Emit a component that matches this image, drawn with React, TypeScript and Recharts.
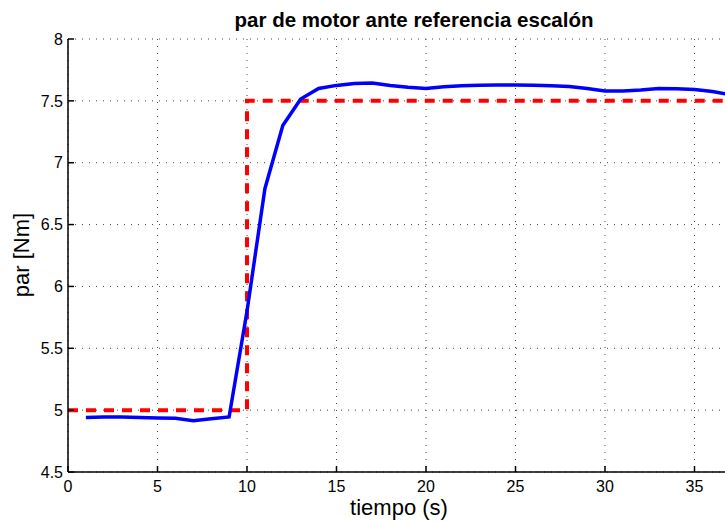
import { LineChart, Line, XAxis, YAxis, CartesianGrid } from 'recharts'

// time (s) of the measured torque samples
const sampleTimes = [
  1, 2, 3, 4, 5, 6, 7, 8, 9, 10, 11, 12, 13, 14, 15, 16, 17, 18, 19,
  20, 21, 22, 23, 24, 25, 26, 27, 28, 29, 30, 31, 32, 33, 34, 35, 36, 37,
]
// measured motor torque [Nm]
const torque = [
  4.94, 4.945, 4.945, 4.94, 4.937, 4.935, 4.915, 4.93, 4.945, 5.8, 6.79, 7.3, 7.515,
  7.6, 7.625, 7.64, 7.645, 7.625, 7.61, 7.6, 7.614, 7.622, 7.626, 7.628, 7.628,
  7.626, 7.623, 7.616, 7.6, 7.58, 7.58, 7.587, 7.6, 7.597, 7.592, 7.576, 7.55,
]

// step reference
const refTimes = [0, 10, 10, 40]
const refTorque = [5, 5, 7.5, 7.5]

// the axis runs to 40 but the figure is cropped before that tick
const xTicks = [0, 5, 10, 15, 20, 25, 30, 35]
const yTicks = [4.5, 5, 5.5, 6, 6.5, 7, 7.5, 8]

const measured = sampleTimes.map((t, i) => ({ t, v: torque[i] }))
const reference = refTimes.map((t, i) => ({ t, v: refTorque[i] }))

const font = '"Liberation Sans", Arial, Helvetica, sans-serif'
const tickStyle = { fill: '#000', fontSize: 16, fontFamily: font }

export default function App() {
  return (
    <div
      style={{
        position: 'fixed',
        left: 0,
        top: 0,
        width: 725,
        height: 521,
        overflow: 'hidden',
        background: '#fff',
        fontFamily: font,
      }}
    >
      <div
        style={{
          position: 'absolute',
          left: 414,
          top: 8,
          transform: 'translateX(-50%)',
          fontSize: 20.5,
          fontWeight: 'bold',
          whiteSpace: 'nowrap',
          lineHeight: '24px',
        }}
      >
        par de motor ante referencia escalón
      </div>
      <div
        style={{
          position: 'absolute',
          left: 399,
          top: 495,
          transform: 'translateX(-50%)',
          fontSize: 22,
          whiteSpace: 'nowrap',
          lineHeight: '26px',
        }}
      >
        tiempo (s)
      </div>
      <div
        style={{
          position: 'absolute',
          left: 22,
          top: 255,
          transform: 'translate(-50%, -50%) rotate(-90deg)',
          fontSize: 22,
          whiteSpace: 'nowrap',
          lineHeight: '26px',
        }}
      >
        par [Nm]
      </div>
      <LineChart
        width={800}
        height={521}
        margin={{ top: 39, right: 16, left: 8, bottom: 0 }}
        style={{ position: 'absolute', left: 0, top: 0 }}
      >
        <CartesianGrid stroke="#444" strokeDasharray="1 6" />
        <XAxis
          dataKey="t"
          type="number"
          domain={[0, 40]}
          ticks={xTicks}
          allowDuplicatedCategory={false}
          height={49}
          tickSize={-6}
          tickMargin={15}
          tick={tickStyle}
          stroke="#000"
          strokeWidth={1.5}
        />
        <XAxis
          xAxisId="top"
          orientation="top"
          type="number"
          domain={[0, 40]}
          ticks={xTicks}
          height={0}
          tickSize={-6}
          tick={false}
          stroke="#000"
          strokeWidth={1.5}
        />
        <YAxis
          type="number"
          domain={[4.5, 8]}
          ticks={yTicks}
          width={60}
          tickSize={-6}
          tickMargin={11}
          tick={tickStyle}
          stroke="#000"
          strokeWidth={1.5}
        />
        <Line
          data={reference}
          dataKey="v"
          type="linear"
          stroke="#ff0000"
          strokeWidth={4}
          strokeDasharray="10 8"
          dot={false}
          isAnimationActive={false}
        />
        <Line
          data={measured}
          dataKey="v"
          type="linear"
          stroke="#0000ff"
          strokeWidth={3.5}
          dot={false}
          isAnimationActive={false}
        />
      </LineChart>
    </div>
  )
}
